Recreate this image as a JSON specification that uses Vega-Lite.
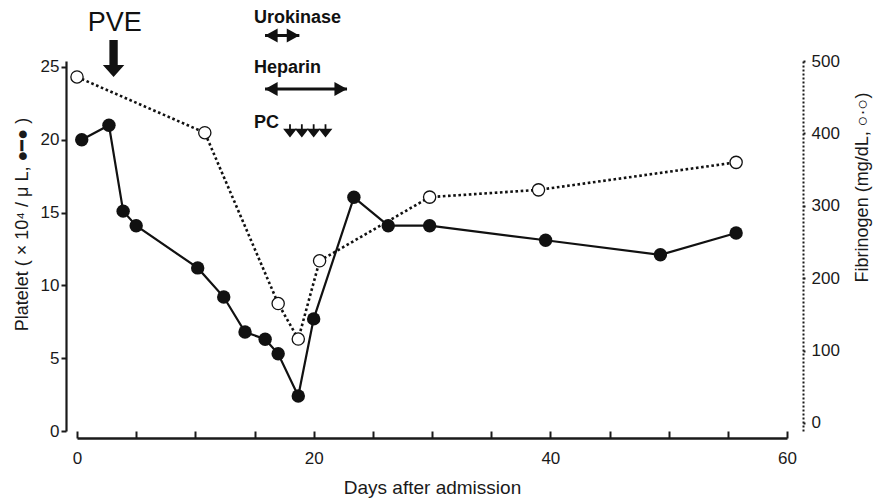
{
  "$schema": "https://vega.github.io/schema/vega-lite/v6.json",
  "width": 710,
  "height": 370,
  "autosize": {"type": "none"},
  "padding": {"left": 77, "top": 61, "right": 87, "bottom": 68},
  "background": "white",
  "config": {
    "view": {"stroke": null},
    "font": "Liberation Sans",
    "axis": {
      "grid": false,
      "labelFont": "Liberation Sans",
      "titleFont": "Liberation Sans",
      "labelColor": "#1a1a1a",
      "titleColor": "#1a1a1a",
      "domainColor": "#1a1a1a",
      "tickColor": "#1a1a1a",
      "labelFontSize": 17,
      "titleFontSize": 18,
      "titleFontWeight": "normal"
    },
    "axisX": {
      "values": [0, 10, 20, 30, 40, 50, 60],
      "labelExpr": "datum.value % 20 == 0 ? datum.label : ''",
      "offset": 7,
      "tickSize": -7,
      "labelPadding": 19,
      "domainWidth": 2.5,
      "tickWidth": 2,
      "titleFontSize": 19,
      "titlePadding": 12,
      "labelFlush": false
    }
  },
  "datasets": {
    "platelet": [
      {"day": 0.4, "value": 20.0},
      {"day": 2.7, "value": 21.0},
      {"day": 3.9, "value": 15.1},
      {"day": 5.0, "value": 14.1},
      {"day": 10.2, "value": 11.2},
      {"day": 12.4, "value": 9.2},
      {"day": 14.2, "value": 6.8},
      {"day": 15.9, "value": 6.3},
      {"day": 17.0, "value": 5.3},
      {"day": 18.7, "value": 2.4},
      {"day": 20.0, "value": 7.7},
      {"day": 23.4, "value": 16.05},
      {"day": 26.3, "value": 14.1},
      {"day": 29.8, "value": 14.1},
      {"day": 39.6, "value": 13.1},
      {"day": 49.3, "value": 12.1},
      {"day": 55.7, "value": 13.6}
    ],
    "fibrinogen": [
      {"day": 0.0, "value": 478},
      {"day": 10.8, "value": 401},
      {"day": 17.0, "value": 165},
      {"day": 18.7, "value": 116},
      {"day": 20.5, "value": 224},
      {"day": 29.8, "value": 312},
      {"day": 39.0, "value": 322},
      {"day": 55.7, "value": 360}
    ],
    "drugs": [
      {"label": "Urokinase", "day": 14.96, "level": 28.33},
      {"label": "Heparin", "day": 14.96, "level": 24.93},
      {"label": "PC", "day": 14.96, "level": 21.15}
    ],
    "spans": [
      {"drug": "Urokinase", "start": 15.89, "end": 18.79, "level": 27.16},
      {"drug": "Heparin", "start": 15.89, "end": 22.82, "level": 23.49}
    ],
    "pc": [
      {"day": 18, "level": 20.6},
      {"day": 19, "level": 20.6},
      {"day": 20, "level": 20.6},
      {"day": 21, "level": 20.6}
    ],
    "pve": [
      {"label": "PVE", "day": 3.2, "level": 28.02, "arrowDay": 3.09, "arrowLevel": 25.58}
    ]
  },
  "layer": [
    {
      "data": {"name": "fibrinogen"},
      "mark": {"type": "line", "color": "#111", "strokeWidth": 2.6, "strokeDash": [2.6, 2.6]},
      "encoding": {
        "x": {"field": "day", "type": "quantitative", "scale": {"domain": [0, 60], "nice": false}, "title": "Days after admission"},
        "y": {
          "field": "value", "type": "quantitative",
          "scale": {"domain": [-11.05, 500], "nice": false, "zero": false},
          "axis": {
            "orient": "right",
            "values": [0, 100, 200, 300, 400, 500],
            "offset": 16,
            "tickSize": 3,
            "labelPadding": 5,
            "domainDash": [2, 2],
            "domainWidth": 2,
            "tickWidth": 2,
            "tickDash": [2, 1],
            "title": "Fibrinogen (mg/dL, ○·○)",
            "titleAngle": -90,
            "titleBaseline": "top",
            "titleY": 126,
            "titlePadding": 14
          }
        }
      }
    },
    {
      "data": {"name": "platelet"},
      "mark": {"type": "line", "color": "#111", "strokeWidth": 2.2},
      "encoding": {
        "x": {"field": "day", "type": "quantitative", "scale": {"domain": [0, 60], "nice": false}, "title": "Days after admission"},
        "y": {
          "field": "value", "type": "quantitative",
          "scale": {"domain": [0, 25.41], "nice": false},
          "axis": {
            "orient": "left",
            "values": [0, 5, 10, 15, 20, 25],
            "offset": 11,
            "tickSize": 5,
            "labelPadding": 2,
            "domainWidth": 2.2,
            "tickWidth": 2,
            "title": "Platelet ( × 10⁴ / μ L, ●━● )",
            "titleY": 163,
            "titlePadding": 9
          }
        }
      }
    },
    {
      "data": {"name": "fibrinogen"},
      "mark": {"type": "point", "shape": "circle", "filled": true, "fill": "white", "stroke": "#111", "strokeWidth": 1.3, "size": 150, "opacity": 1},
      "encoding": {
        "x": {"field": "day", "type": "quantitative", "scale": {"domain": [0, 60], "nice": false}, "title": "Days after admission"},
        "y": {"field": "value", "type": "quantitative", "scale": {"domain": [-11.05, 500], "nice": false, "zero": false}, "axis": null}
      }
    },
    {
      "data": {"name": "platelet"},
      "mark": {"type": "point", "shape": "circle", "filled": true, "color": "#111", "size": 180, "opacity": 1},
      "encoding": {
        "x": {"field": "day", "type": "quantitative", "scale": {"domain": [0, 60], "nice": false}, "title": "Days after admission"},
        "y": {"field": "value", "type": "quantitative", "scale": {"domain": [0, 25.41], "nice": false}, "axis": null}
      }
    },
    {
      "layer": [
        {
          "data": {"name": "pve"},
          "mark": {"type": "text", "fontSize": 27, "font": "Liberation Sans", "color": "#111", "align": "center", "baseline": "middle"},
          "encoding": {
            "x": {"field": "day", "type": "quantitative", "scale": {"domain": [0, 60], "nice": false}, "title": "Days after admission"},
            "y": {"field": "level", "type": "quantitative", "scale": {"domain": [0, 25.41], "nice": false}, "axis": null},
            "text": {"field": "label"}
          }
        },
        {
          "data": {"name": "pve"},
          "mark": {"type": "point", "filled": true, "color": "#111", "opacity": 1, "size": 1369, "shape": "M-0.225,-1L0.225,-1L0.225,0.35L0.58,0.35L0,1L-0.58,0.35L-0.225,0.35Z"},
          "encoding": {
            "x": {"field": "arrowDay", "type": "quantitative", "scale": {"domain": [0, 60], "nice": false}, "title": "Days after admission"},
            "y": {"field": "arrowLevel", "type": "quantitative", "scale": {"domain": [0, 25.41], "nice": false}, "axis": null}
          }
        },
        {
          "data": {"name": "drugs"},
          "mark": {"type": "text", "fontSize": 18, "fontWeight": "bold", "font": "Liberation Sans", "color": "#111", "align": "left", "baseline": "middle"},
          "encoding": {
            "x": {"field": "day", "type": "quantitative", "scale": {"domain": [0, 60], "nice": false}, "title": "Days after admission"},
            "y": {"field": "level", "type": "quantitative", "scale": {"domain": [0, 25.41], "nice": false}, "axis": null},
            "text": {"field": "label"}
          }
        },
        {
          "data": {"name": "spans"},
          "mark": {"type": "rule", "color": "#111", "strokeWidth": 3},
          "encoding": {
            "x": {"field": "start", "type": "quantitative", "scale": {"domain": [0, 60], "nice": false}, "title": "Days after admission"},
            "x2": {"field": "end"},
            "y": {"field": "level", "type": "quantitative", "scale": {"domain": [0, 25.41], "nice": false}, "axis": null}
          }
        },
        {
          "data": {"name": "spans"},
          "mark": {"type": "point", "filled": true, "color": "#111", "opacity": 1, "size": 196, "shape": "M0,0L1.8,-1L1.8,1Z"},
          "encoding": {
            "x": {"field": "start", "type": "quantitative", "scale": {"domain": [0, 60], "nice": false}, "title": "Days after admission"},
            "y": {"field": "level", "type": "quantitative", "scale": {"domain": [0, 25.41], "nice": false}, "axis": null}
          }
        },
        {
          "data": {"name": "spans"},
          "mark": {"type": "point", "filled": true, "color": "#111", "opacity": 1, "size": 196, "shape": "M0,0L-1.8,-1L-1.8,1Z"},
          "encoding": {
            "x": {"field": "end", "type": "quantitative", "scale": {"domain": [0, 60], "nice": false}, "title": "Days after admission"},
            "y": {"field": "level", "type": "quantitative", "scale": {"domain": [0, 25.41], "nice": false}, "axis": null}
          }
        },
        {
          "data": {"name": "pc"},
          "mark": {"type": "point", "filled": true, "color": "#111", "opacity": 1, "size": 225, "shape": "M-0.12,-0.9L0.12,-0.9L0.12,-0.3L0.92,-0.3L0,0.85L-0.92,-0.3L-0.12,-0.3Z"},
          "encoding": {
            "x": {"field": "day", "type": "quantitative", "scale": {"domain": [0, 60], "nice": false}, "title": "Days after admission"},
            "y": {"field": "level", "type": "quantitative", "scale": {"domain": [0, 25.41], "nice": false}, "axis": null}
          }
        }
      ]
    }
  ],
  "resolve": {"scale": {"y": "independent"}, "axis": {"y": "independent"}}
}
